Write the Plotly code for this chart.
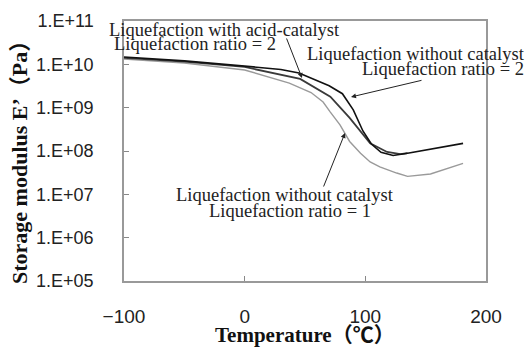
import plotly.graph_objects as go

# Temperature (°C) and storage modulus (Pa)
T_nocat2 = [-100, -50, 0, 30, 45, 60, 70, 81, 90, 98, 105, 113, 123, 135, 155, 181]
E_nocat2 = [1.48e10, 1.2e10, 9.1e9, 7.6e9, 6.3e9, 4.2e9, 3.2e9, 2.1e9, 8.9e8, 2.9e8,
            1.45e8, 9.3e7, 7.9e7, 8.9e7, 1.12e8, 1.5e8]

T_acid2 = [-100, -50, 0, 46, 71, 87, 104, 118, 129, 135]
E_acid2 = [1.41e10, 1.15e10, 8.7e9, 4.6e9, 1.8e9, 5.8e8, 1.5e8, 9.5e7, 8.5e7, 8.9e7]

T_nocat1 = [-100, -50, 0, 37, 55, 65, 71, 79, 87, 96, 104, 112, 126, 135, 154, 181]
E_nocat1 = [1.32e10, 1.07e10, 7.4e9, 3.7e9, 2.24e9, 1.35e9, 7.9e8, 4.0e8, 1.66e8, 8.9e7,
            5.6e7, 4.3e7, 3.1e7, 2.6e7, 2.95e7, 5.2e7]

x_ticks = [-100, 0, 100, 200]
y_ticks = [1e5, 1e6, 1e7, 1e8, 1e9, 1e10, 1e11]
y_ticktext = ["1.E+05", "1.E+06", "1.E+07", "1.E+08", "1.E+09", "1.E+10", "1.E+11"]

W, H = 526, 349
L, R, T, B = 124, 40, 21, 68
PW, PH = W - L - R, H - T - B


def px(xp):
    return (xp - L) / PW


def py(yp):
    return (H - B - yp) / PH


fig = go.Figure()
fig.add_trace(go.Scatter(x=T_nocat1, y=E_nocat1, mode="lines",
                         line=dict(color="#9a9a9a", width=1.4), showlegend=False))
fig.add_trace(go.Scatter(x=T_acid2, y=E_acid2, mode="lines",
                         line=dict(color="#3a3a3a", width=1.8), showlegend=False))
fig.add_trace(go.Scatter(x=T_nocat2, y=E_nocat2, mode="lines",
                         line=dict(color="#111111", width=1.6), showlegend=False))

serif = "Liberation Serif, Times New Roman, Noto Sans CJK JP, serif"
ann_font = dict(family=serif, size=18.5, color="#222")

texts = [
    ("Liquefaction with acid-catalyst", 108, 30),
    ("Liquefaction ratio = 2", 113, 44),
    ("Liquefaction without catalyst", 306, 54),
    ("Liquefaction ratio = 2", 361, 69),
    ("Liquefaction without catalyst", 175, 195),
    ("Liquefaction ratio = 1", 208, 211),
]
annotations = []
for t, x0, y0 in texts:
    annotations.append(dict(text=t, x=px(x0), y=py(y0), xref="paper", yref="paper",
                            xanchor="left", yanchor="middle", showarrow=False,
                            borderpad=0, font=ann_font))

arrows = [((302, 78), (286, 37)), ((351, 97), (423, 80)), ((345, 133), (323, 188))]
for (tx, ty), (sx, sy) in arrows:
    annotations.append(dict(text="", x=px(tx), y=py(ty), xref="paper", yref="paper",
                            ax=sx - tx, ay=sy - ty, showarrow=True, arrowhead=2,
                            arrowsize=1, arrowwidth=1, arrowcolor="#222"))

annotations.append(dict(text="<b>Storage modulus E’（Pa）</b>", x=px(20), y=py(157),
                        xref="paper", yref="paper", textangle=-90, showarrow=False,
                        xanchor="center", yanchor="middle",
                        font=dict(family=serif, size=22, color="#111")))
annotations.append(dict(text="<b>Temperature（℃）</b>", x=px(213), y=py(335),
                        xref="paper", yref="paper", showarrow=False,
                        xanchor="left", yanchor="middle",
                        font=dict(family=serif, size=21, color="#111")))

fig.update_layout(
    width=W, height=H,
    margin=dict(l=L, r=R, t=T, b=B),
    paper_bgcolor="white", plot_bgcolor="white",
    annotations=annotations,
    xaxis=dict(range=[-100, 200], tickvals=x_ticks, ticks="inside", ticklen=5,
               tickcolor="#888", showline=True, linecolor="#999", linewidth=1.5,
               mirror=True, showgrid=False, zeroline=False,
               tickfont=dict(family="Liberation Sans, Arial, sans-serif", size=19, color="#222"),
               ticklabelstandoff=17),
    yaxis=dict(type="log", range=[5, 11], tickvals=y_ticks, ticktext=y_ticktext,
               ticks="inside", ticklen=5, tickcolor="#888", showline=True,
               linecolor="#999", linewidth=1.5, mirror=True, showgrid=False,
               zeroline=False,
               tickfont=dict(family="Liberation Sans, Arial, sans-serif", size=18, color="#222"),
               ticklabelstandoff=25),
)

fig.write_html("out.html", config={"displayModeBar": False},
               post_script="document.body.style.margin='0px';")
